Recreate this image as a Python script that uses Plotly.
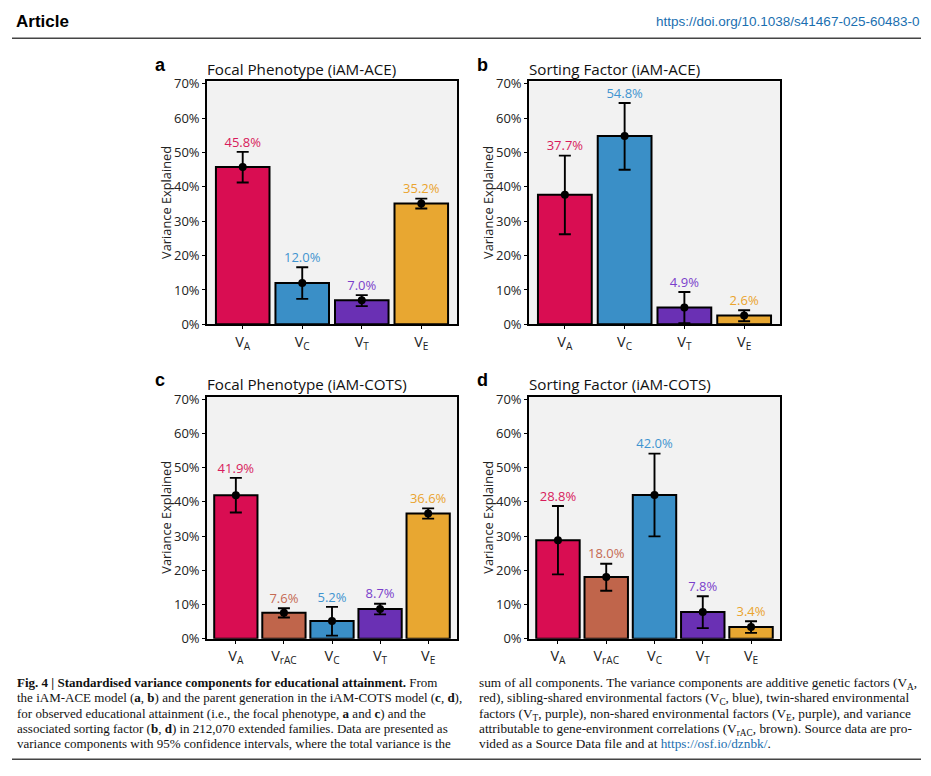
import plotly.graph_objects as go

# ---------------- data ----------------
cats_ace = ["V<sub>A</sub>", "V<sub>C</sub>", "V<sub>T</sub>", "V<sub>E</sub>"]
cats_cots = ["V<sub>A</sub>", "V<sub>rAC</sub>", "V<sub>C</sub>", "V<sub>T</sub>", "V<sub>E</sub>"]

a_val = [45.8, 12.0, 7.0, 35.2]
a_lo = [41.3, 7.4, 5.3, 33.7]
a_hi = [50.2, 16.6, 8.5, 36.6]

b_val = [37.7, 54.8, 4.9, 2.6]
b_lo = [26.2, 45.0, 0.3, 0.9]
b_hi = [49.1, 64.4, 9.4, 4.1]

c_val = [41.9, 7.6, 5.2, 8.7, 36.6]
c_lo = [36.9, 6.2, 0.9, 7.1, 35.1]
c_hi = [47.0, 8.9, 9.3, 10.2, 38.1]

d_val = [28.8, 18.0, 42.0, 7.8, 3.4]
d_lo = [18.8, 14.0, 29.9, 3.1, 1.7]
d_hi = [38.8, 21.9, 54.1, 12.4, 5.1]

titles = ["Focal Phenotype (iAM-ACE)", "Sorting Factor (iAM-ACE)",
          "Focal Phenotype (iAM-COTS)", "Sorting Factor (iAM-COTS)"]
letters = ["a", "b", "c", "d"]
yticks = [0, 10, 20, 30, 40, 50, 60, 70]

col = {"V<sub>A</sub>": "#D90D52", "V<sub>rAC</sub>": "#C0654B", "V<sub>C</sub>": "#3A8FC7",
       "V<sub>T</sub>": "#6A30B4", "V<sub>E</sub>": "#E8A731"}
txtcol = {"V<sub>A</sub>": "#D81B5C", "V<sub>rAC</sub>": "#C56A52", "V<sub>C</sub>": "#3F94D0",
          "V<sub>T</sub>": "#7A3FCB", "V<sub>E</sub>": "#EAA42E"}

W, H = 931, 776
def px(x): return x / W
def py(y): return 1 - y / H

# panel geometry in pixels (left, right, top, bottom)
panels = [(207, 457, 76, 324), (529, 780, 76, 324), (207, 457, 398, 645), (529, 780, 398, 645)]
data = [(cats_ace, a_val, a_lo, a_hi), (cats_ace, b_val, b_lo, b_hi),
        (cats_cots, c_val, c_lo, c_hi), (cats_cots, d_val, d_lo, d_hi)]

fig = go.Figure()
FONT = "Open Sans"
layout = {}
annotations = []

for i, ((cats, v, lo, hi), (l, r, t, b)) in enumerate(zip(data, panels)):
    n = i + 1
    xa = "x" if n == 1 else f"x{n}"
    ya = "y" if n == 1 else f"y{n}"
    yv = [x / 100 for x in v]
    fig.add_trace(go.Bar(x=cats, y=yv, width=0.9,
                         marker=dict(color=[col[c] for c in cats], line=dict(color="black", width=2)),
                         xaxis=xa, yaxis=ya, showlegend=False, hoverinfo="skip"))
    fig.add_trace(go.Scatter(x=cats, y=yv, mode="markers",
                             marker=dict(color="black", size=8),
                             error_y=dict(type="data", symmetric=False,
                                          array=[(h - m) / 100 for h, m in zip(hi, v)],
                                          arrayminus=[(m - q) / 100 for q, m in zip(lo, v)],
                                          color="black", thickness=1.9, width=6),
                             xaxis=xa, yaxis=ya, showlegend=False, hoverinfo="skip"))
    fig.add_trace(go.Scatter(x=cats, y=[(h + 2.5) / 100 for h in hi], mode="text",
                             text=[f"{m:.1f}%" for m in v],
                             textposition="middle center",
                             textfont=dict(family=FONT, size=13, color=[txtcol[c] for c in cats]),
                             xaxis=xa, yaxis=ya, showlegend=False, hoverinfo="skip"))
    k = "" if n == 1 else str(n)
    layout["xaxis" + k] = dict(domain=[px(l), px(r)], anchor=ya, type="category",
                               range=[-0.6, len(cats) - 0.4], showline=True, mirror=True,
                               linecolor="black", linewidth=1.6, ticks="outside", ticklen=3,
                               tickcolor="black", tickwidth=1, showgrid=False, zeroline=False,
                               tickfont=dict(family=FONT, size=14.5, color="#222222"),
                               fixedrange=True)
    layout["yaxis" + k] = dict(domain=[py(b), py(t)], anchor=xa, range=[0, 0.707],
                               tickvals=[y / 100 for y in yticks],
                               ticktext=[f"{y}%" for y in yticks],
                               showline=True, mirror=True, linecolor="black", linewidth=1.6,
                               ticks="outside", ticklen=3, tickcolor="black", tickwidth=1,
                               showgrid=False, zeroline=False,
                               tickfont=dict(family=FONT, size=13, color="#222222"),
                               fixedrange=True)
    # title
    annotations.append(dict(x=px(l - 2), y=py(t - 13), xref="paper", yref="paper",
                            text=titles[i], showarrow=False, xanchor="left", yanchor="middle",
                            font=dict(family=FONT, size=15.2, color="#111111")))
    # panel letter
    annotations.append(dict(x=px(l - 54), y=py(t - 17), xref="paper", yref="paper",
                            text=f"<b>{letters[i]}</b>", showarrow=False, xanchor="left",
                            yanchor="middle", font=dict(family="Liberation Sans", size=18, color="black")))
    # y axis title
    annotations.append(dict(x=px(l - 41), y=py((t + b) / 2), xref="paper", yref="paper",
                            text="Variance Explained", showarrow=False, textangle=-90,
                            xanchor="center", yanchor="middle",
                            font=dict(family=FONT, size=12.8, color="#222222")))

# header
annotations.append(dict(x=px(14), y=py(15), xref="paper", yref="paper", text="<b>Article</b>",
                        showarrow=False, xanchor="left", yanchor="middle",
                        font=dict(family="Liberation Sans", size=17, color="black")))
annotations.append(dict(x=px(921), y=py(15), xref="paper", yref="paper",
                        text="https://doi.org/10.1038/s41467-025-60483-0",
                        showarrow=False, xanchor="right", yanchor="middle",
                        font=dict(family="Liberation Sans", size=13.5, color="#1A6FB0")))

left_lines = [
    "<b>Fig. 4 | Standardised variance components for educational attainment.</b> From",
    "the iAM-ACE model (<b>a</b>, <b>b</b>) and the parent generation in the iAM-COTS model (<b>c</b>, <b>d</b>),",
    "for observed educational attainment (i.e., the focal phenotype, <b>a</b> and <b>c</b>) and the",
    "associated sorting factor (<b>b</b>, <b>d</b>) in 212,070 extended families. Data are presented as",
    "variance components with 95% confidence intervals, where the total variance is the",
]
right_lines = [
    "sum of all components. The variance components are additive genetic factors (V<sub>A</sub>,",
    "red), sibling-shared environmental factors (V<sub>C</sub>, blue), twin-shared environmental",
    "factors (V<sub>T</sub>, purple), non-shared environmental factors (V<sub>E</sub>, purple), and variance",
    "attributable to gene-environment correlations (V<sub>rAC</sub>, brown). Source data are pro-",
    "vided as a Source Data file and at <span style='color:#1A6FB0'>https://osf.io/dznbk/</span>.",
]
CAP = 13
for j, line in enumerate(left_lines):
    annotations.append(dict(x=px(15), y=py(680 + j * 15.7), xref="paper", yref="paper", text=line,
                            showarrow=False, xanchor="left", yanchor="top",
                            font=dict(family="Liberation Serif", size=CAP, color="#111111")))
for j, line in enumerate(right_lines):
    annotations.append(dict(x=px(477), y=py(680 + j * 15.7), xref="paper", yref="paper", text=line,
                            showarrow=False, xanchor="left", yanchor="top",
                            font=dict(family="Liberation Serif", size=CAP + 0.3, color="#111111")))

shapes = [
    dict(type="line", xref="paper", yref="paper", x0=px(12), x1=px(921), y0=py(32), y1=py(32),
         line=dict(color="#444444", width=1.5)),
    dict(type="line", xref="paper", yref="paper", x0=px(12), x1=px(921), y0=py(768), y1=py(768),
         line=dict(color="#444444", width=1.5)),
]
# panel backgrounds
for i, (l, r, t, b) in enumerate(panels):
    shapes.append(dict(type="rect", xref="paper", yref="paper", x0=px(l), x1=px(r), y0=py(b), y1=py(t),
                       fillcolor="#F2F2F2", line=dict(width=0), layer="below"))

fig.update_layout(width=W, height=H, margin=dict(l=0, r=0, t=0, b=0),
                  paper_bgcolor="white", plot_bgcolor="rgba(0,0,0,0)",
                  annotations=annotations, shapes=shapes, barmode="overlay", **layout)
fig.write_html("out.html", config={"displayModeBar": False},
               post_script="document.body.style.margin='0';document.body.style.padding='0';"
                           "document.documentElement.style.overflow='hidden';")
